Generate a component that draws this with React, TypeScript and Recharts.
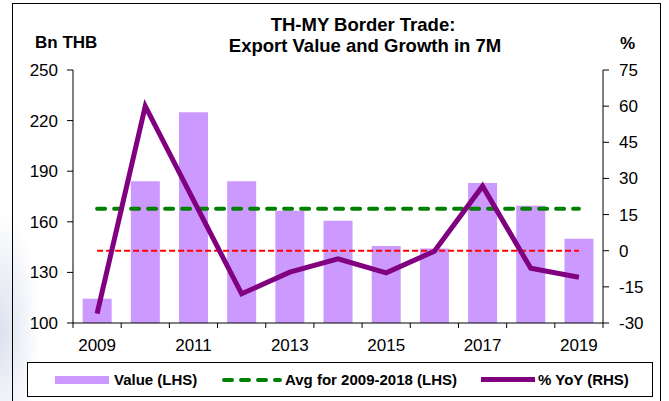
import React from "react";
import {
  ComposedChart,
  Bar,
  Line,
  XAxis,
  YAxis,
  ReferenceLine,
} from "recharts";

// --- data ---
const years = ["2009", "2010", "2011", "2012", "2013", "2014", "2015", "2016", "2017", "2018", "2019"];
const exportValue = [114.4, 184, 225, 184, 166.5, 160.6, 145.6, 144.2, 183, 169.5, 150];
const yoyGrowth = [-26.1, 60, 21, -17.9, -8.9, -3.4, -9.2, -0.2, 26.8, -7.3, -11];
const avgValue = 167.8; // Avg for 2009-2018
const leftTicks = [100, 130, 160, 190, 220, 250];
const rightTicks = [-30, -15, 0, 15, 30, 45, 60, 75];

const FONT = '"Liberation Sans", Arial, sans-serif';
const W = 669;
const H = 401;
const PLOT_LEFT = 73;
const PLOT_RIGHT = 603;
const BAND = (PLOT_RIGHT - PLOT_LEFT) / years.length;

const chartData = years.map((year, i) => ({
  year,
  value: exportValue[i],
  yoy: yoyGrowth[i],
}));

// x tick: labels on every other year, tick marks on the band edges
function XTick(props: any) {
  const { x, y, index, payload } = props;
  const axisY = y - 7;
  const last = index === years.length - 1;
  return (
    <g>
      <line x1={x - BAND / 2} y1={axisY} x2={x - BAND / 2} y2={axisY + 5} stroke="#000" />
      {last && <line x1={x + BAND / 2} y1={axisY} x2={x + BAND / 2} y2={axisY + 5} stroke="#000" />}
      {index % 2 === 0 && (
        <text x={x} y={y} dy={21} textAnchor="middle" fill="#000" fontSize={17} fontFamily={FONT}>
          {payload.value}
        </text>
      )}
    </g>
  );
}

function LegendBox() {
  const txt: React.CSSProperties = {
    position: "absolute",
    top: 8,
    fontFamily: FONT,
    fontWeight: 700,
    fontSize: 15,
    color: "#000",
    whiteSpace: "nowrap",
  };
  return (
    <div
      style={{
        position: "absolute",
        left: 27,
        top: 362,
        width: 624,
        height: 33,
        border: "1px solid #000",
        background: "#fff",
      }}
    >
      <div style={{ position: "absolute", left: 27, top: 13, width: 54, height: 8, background: "#CC99FF" }} />
      <span style={{ ...txt, left: 86 }}>Value (LHS)</span>
      <svg style={{ position: "absolute", left: 194, top: 12 }} width={60} height={10}>
        <line x1={2} y1={5} x2={58} y2={5} stroke="#008000" strokeWidth={4} strokeDasharray="8 9" strokeLinecap="round" />
      </svg>
      <span style={{ ...txt, left: 257 }}>Avg for 2009-2018 (LHS)</span>
      <div style={{ position: "absolute", left: 453, top: 14, width: 54, height: 5, background: "#800080" }} />
      <span style={{ ...txt, left: 510 }}>% YoY (RHS)</span>
    </div>
  );
}

export default function App() {
  return (
    <div
      style={{
        position: "absolute",
        left: 0,
        top: 0,
        width: W,
        height: H,
        overflow: "hidden",
        background:
          "radial-gradient(ellipse 40px 120px at 0px 330px, rgba(190,200,225,0.55), rgba(255,255,255,0))",
      }}
    >
      {/* outer frame, bottom edge runs off the picture */}
      <div
        style={{
          position: "absolute",
          left: 12,
          top: 3,
          width: 647,
          height: 420,
          border: "1px solid #000",
        }}
      />

      <div style={{ position: "absolute", left: 0, top: 0 }}>
        <ComposedChart
          width={W}
          height={H}
          data={chartData}
          margin={{ top: 70, right: 6, bottom: 48, left: 13 }}
          barCategoryGap="20%"
        >
          <XAxis
            dataKey="year"
            interval={0}
            height={30}
            tickLine={false}
            tickSize={5}
            tickMargin={2}
            axisLine={{ stroke: "#000" }}
            tick={<XTick />}
          />
          <YAxis
            yAxisId="left"
            width={60}
            domain={[100, 250]}
            ticks={leftTicks}
            interval={0}
            tickSize={6}
            tickMargin={9}
            axisLine={{ stroke: "#000" }}
            tickLine={{ stroke: "#000" }}
            tick={{ fill: "#000", fontSize: 17, fontFamily: FONT }}
          />
          <YAxis
            yAxisId="right"
            orientation="right"
            width={60}
            domain={[-30, 75]}
            ticks={rightTicks}
            interval={0}
            tickSize={6}
            tickMargin={10}
            axisLine={{ stroke: "#000" }}
            tickLine={{ stroke: "#000" }}
            tick={{ fill: "#000", fontSize: 17, fontFamily: FONT }}
          />
          <Bar yAxisId="left" dataKey="value" fill="#CC99FF" isAnimationActive={false} />
          <ReferenceLine
            yAxisId="left"
            segment={[
              { x: years[0], y: avgValue },
              { x: years[years.length - 1], y: avgValue },
            ]}
            stroke="#008000"
            strokeWidth={4}
            strokeDasharray="8 9"
            strokeLinecap="round"
          />
          <ReferenceLine
            yAxisId="right"
            segment={[
              { x: years[0], y: 0 },
              { x: years[years.length - 1], y: 0 },
            ]}
            stroke="#FF0000"
            strokeWidth={2}
            strokeDasharray="6 3"
          />
          <Line
            yAxisId="right"
            dataKey="yoy"
            type="linear"
            stroke="#800080"
            strokeWidth={5}
            dot={false}
            activeDot={false}
            isAnimationActive={false}
          />
        </ComposedChart>
      </div>

      {/* titles and unit labels */}
      <svg
        width={W}
        height={80}
        style={{ position: "absolute", left: 0, top: 0, pointerEvents: "none" }}
      >
        <text x={363} y={31} textAnchor="middle" fontFamily={FONT} fontWeight={700} fontSize={18.5} fill="#000">
          TH-MY Border Trade:
        </text>
        <text x={365} y={52} textAnchor="middle" fontFamily={FONT} fontWeight={700} fontSize={18.5} fill="#000">
          Export Value and Growth in 7M
        </text>
        <text x={35} y={48} fontFamily={FONT} fontWeight={700} fontSize={17} fill="#000">
          Bn THB
        </text>
        <text x={620} y={49} fontFamily={FONT} fontWeight={700} fontSize={17} fill="#000">
          %
        </text>
      </svg>

      <LegendBox />
    </div>
  );
}
